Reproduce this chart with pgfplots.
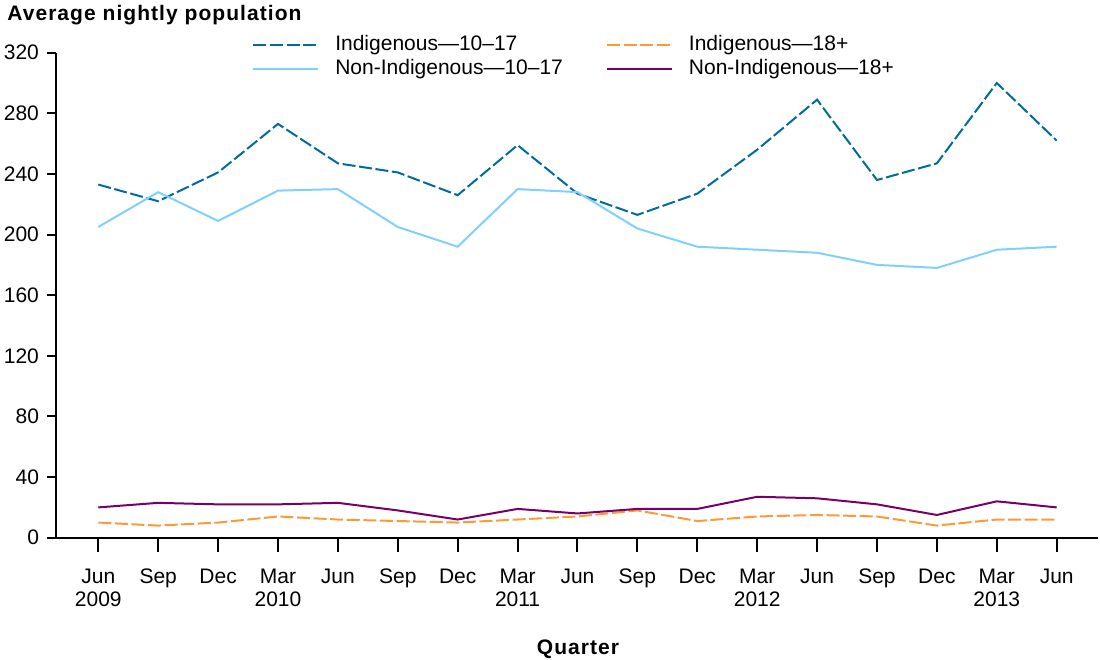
\documentclass[border=0pt]{standalone}
\usepackage{fontspec}
\setmainfont{Liberation Sans}
\usepackage{pgfplots}
\pgfplotsset{compat=1.18}
\usetikzlibrary{calc}

\definecolor{indyouth}{RGB}{0,107,156}
\definecolor{nonyouth}{RGB}{128,208,255}
\definecolor{indadult}{RGB}{255,153,51}
\definecolor{nonadult}{RGB}{118,0,104}

\begin{document}
\begin{tikzpicture}
\begin{axis}[
  scale only axis, width=521pt, height=242.5pt,
  xmin=-0.706, xmax=16.69, ymin=0, ymax=320,
  axis lines*=left,
  axis line style={line width=1pt},
  ytick={0,40,...,320},
  xtick={0,...,16},
  xticklabels={Jun\\2009,Sep,Dec,Mar\\2010,Jun,Sep,Dec,Mar\\2011,Jun,Sep,Dec,Mar\\2012,Jun,Sep,Dec,Mar\\2013,Jun},
  xticklabel style={align=center, font=\fontsize{10.5}{11.8}\selectfont, yshift=-7pt},
  yticklabel style={font=\fontsize{10.5}{12}\selectfont},
  tick align=outside, major tick length=5pt,
  xtick style={/pgfplots/major tick length=7pt},
  ytick style={/pgfplots/major tick length=4.5pt},
  tick style={line width=1pt, black},
  /pgf/number format/assume math mode=true,
  legend columns=2,
  legend cell align=left,
  legend style={at={(0.188,1.0386)}, anchor=north west, draw=none, fill=none,
    inner sep=0pt, font=\fontsize{10.5}{12}\selectfont, row sep=1.5pt,
    nodes={inner sep=0pt, text height=8pt, text depth=2.5pt},
    /tikz/every odd column/.append style={column sep=8pt},
    /tikz/every even column/.append style={column sep=21.5pt}},
  legend image code/.code={\draw[#1] (0pt,0pt) -- (32.5pt,0pt);},
  every axis plot/.append style={line width=1pt},
]
\addplot[indyouth, dash pattern=on 6.5pt off 1.8pt] coordinates {
  (0,233) (1,222) (2,241) (3,273) (4,247) (5,241) (6,226) (7,259) (8,227)
  (9,213) (10,227) (11,256) (12,289) (13,236) (14,247) (15,300) (16,262)};
\addlegendentry{Indigenous—10–17}
\addplot[indadult, dash pattern=on 6.5pt off 1.8pt] coordinates {
  (0,10) (1,8) (2,10) (3,14) (4,12) (5,11) (6,10) (7,12) (8,14)
  (9,18) (10,11) (11,14) (12,15) (13,14) (14,8) (15,12) (16,12)};
\addlegendentry{Indigenous—18+}
\addplot[nonyouth] coordinates {
  (0,205) (1,228) (2,209) (3,229) (4,230) (5,205) (6,192) (7,230) (8,228)
  (9,204) (10,192) (11,190) (12,188) (13,180) (14,178) (15,190) (16,192)};
\addlegendentry{Non-Indigenous—10–17}
\addplot[nonadult] coordinates {
  (0,20) (1,23) (2,22) (3,22) (4,23) (5,18) (6,12) (7,19) (8,16)
  (9,19) (10,19) (11,27) (12,26) (13,22) (14,15) (15,24) (16,20)};
\addlegendentry{Non-Indigenous—18+}
\coordinate (O) at (rel axis cs:0,0);
\coordinate (T) at (rel axis cs:1,1);
\end{axis}
\node[anchor=base west, font=\fontsize{10.5}{12}\selectfont\bfseries\addfontfeature{LetterSpace=5}, inner sep=0pt]
  at ([xshift=-24.5pt, yshift=16.3pt]O |- T) {Average nightly population};
\node[anchor=base, font=\fontsize{10.5}{12}\selectfont\bfseries\addfontfeature{LetterSpace=5}, inner sep=0pt]
  at ([yshift=-58.2pt]$(O)!0.501!(O -| T)$) {Quarter};
\pgfresetboundingbox
\path[use as bounding box] ([xshift=-28pt, yshift=-60.65pt]O) rectangle ([xshift=1pt, yshift=26.35pt]T);
\end{tikzpicture}
\end{document}
